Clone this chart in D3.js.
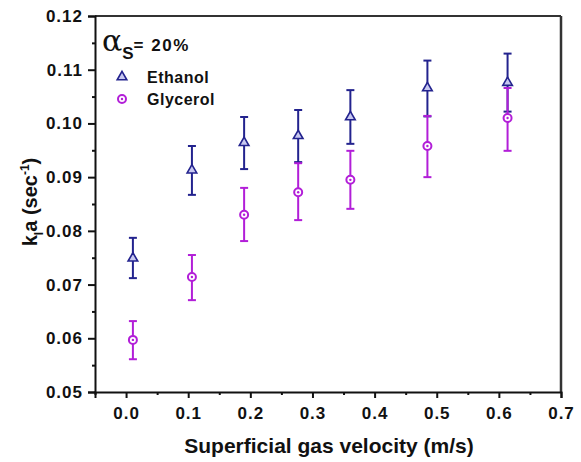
<!DOCTYPE html>
<html>
<head>
<meta charset="utf-8">
<script src="https://cdn.jsdelivr.net/npm/d3@7.9.0/dist/d3.min.js"></script>
<style>
  body { margin: 0; background: #fff; }
  text { font-family: "Liberation Sans", Arial, sans-serif; font-weight: bold; }
</style>
</head>
<body>
<svg id="chart" width="581" height="462"></svg>
<script>
// superficial gas velocity (m/s)
const velocity = [0.011, 0.106, 0.19, 0.277, 0.361, 0.485, 0.614];

// kla values and error bars
const ethanol    = [0.0749, 0.0913, 0.0964, 0.0977, 0.1012, 0.1066, 0.1076];
const ethanolLo  = [0.0712, 0.0867, 0.0915, 0.0928, 0.0962, 0.1013, 0.1022];
const ethanolHi  = [0.0787, 0.0958, 0.1012, 0.1025, 0.1062, 0.1117, 0.1130];
const glycerol   = [0.0597, 0.0714, 0.0830, 0.0872, 0.0895, 0.0958, 0.1010];
const glycerolLo = [0.0561, 0.0671, 0.0781, 0.0820, 0.0841, 0.0900, 0.0949];
const glycerolHi = [0.0632, 0.0755, 0.0880, 0.0926, 0.0949, 0.1014, 0.1066];

const xTicks = [0.0, 0.1, 0.2, 0.3, 0.4, 0.5, 0.6, 0.7];
const yTicks = [0.05, 0.06, 0.07, 0.08, 0.09, 0.10, 0.11, 0.12];

const svg = d3.select('#chart');
const pLeft = 95, pRight = 561, pTop = 16, pBottom = 392;

const x = d3.scaleLinear().domain([-0.05, 0.7]).range([pLeft, pRight]);
const y = d3.scaleLinear().domain([0.05, 0.12]).range([pBottom, pTop]);

// frame (top/right lines)
svg.append('line').attr('x1', pLeft).attr('x2', pRight).attr('y1', pTop).attr('y2', pTop)
  .attr('stroke', '#333').attr('stroke-width', 2);
svg.append('line').attr('x1', pRight).attr('x2', pRight).attr('y1', pTop).attr('y2', pBottom)
  .attr('stroke', '#333').attr('stroke-width', 2.5);

// x axis
svg.append('g').attr('transform', `translate(0,${pBottom})`)
  .call(d3.axisBottom(x).tickValues(xTicks).tickFormat(d3.format('.1f')).tickSize(6).tickPadding(9));
svg.append('g').attr('transform', `translate(0,${pBottom})`)
  .call(d3.axisBottom(x).tickValues(d3.range(-0.05, 0.7, 0.1)).tickFormat('').tickSize(3))
  .select('.domain').remove();

// y axis
svg.append('g').attr('transform', `translate(${pLeft},0)`)
  .call(d3.axisLeft(y).tickValues(yTicks).tickFormat(d3.format('.2f')).tickSize(7).tickPadding(5));
svg.append('g').attr('transform', `translate(${pLeft},0)`)
  .call(d3.axisLeft(y).tickValues(d3.range(0.055, 0.12, 0.01)).tickFormat('').tickSize(3))
  .select('.domain').remove();

svg.selectAll('.domain').attr('stroke', '#111').attr('stroke-width', 2);
svg.selectAll('.tick line').attr('stroke', '#111').attr('stroke-width', 2);
svg.selectAll('.tick text').attr('font-size', 17).attr('fill', '#111')
  .attr('letter-spacing', 1)
  .style('font-family', '"Liberation Sans", Arial, sans-serif').style('font-weight', 'bold');

// axis titles
svg.append('text').attr('x', 329).attr('y', 453)
  .attr('text-anchor', 'middle').attr('font-size', 21).attr('fill', '#111')
  .text('Superficial gas velocity (m/s)');

const yl = svg.append('text').attr('transform', 'translate(37,202) rotate(-90)')
  .attr('text-anchor', 'middle').attr('font-size', 20).attr('fill', '#111');
yl.append('tspan').text('k');
yl.append('tspan').attr('font-size', 12).attr('dy', 6).text('l');
yl.append('tspan').attr('dy', -6).text('a (sec');
yl.append('tspan').attr('font-size', 12).attr('dy', -8).text('-1');
yl.append('tspan').attr('dy', 8).text(')');

// series
const series = [
  { name: 'Ethanol', vals: ethanol, lo: ethanolLo, hi: ethanolHi, color: '#23238e', shape: 'tri' },
  { name: 'Glycerol', vals: glycerol, lo: glycerolLo, hi: glycerolHi, color: '#b21ed8', shape: 'circ' }
];

function marker(g, shape, color) {
  if (shape === 'tri') {
    g.append('path').attr('d', d3.symbol(d3.symbolTriangle, 40)())
      .attr('fill', '#c8c8f0').attr('stroke', color).attr('stroke-width', 1.6);
  } else {
    g.append('circle').attr('r', 4).attr('fill', '#fff')
      .attr('stroke', color).attr('stroke-width', 2);
    g.append('circle').attr('r', 1.2).attr('fill', color);
  }
}

series.forEach((s) => {
  const g = svg.append('g');
  velocity.forEach((v, i) => {
    const cx = x(v);
    g.append('line').attr('x1', cx).attr('x2', cx).attr('y1', y(s.lo[i])).attr('y2', y(s.hi[i]))
      .attr('stroke', s.color).attr('stroke-width', 2);
    [s.lo[i], s.hi[i]].forEach((e) => {
      g.append('line').attr('x1', cx - 4).attr('x2', cx + 4).attr('y1', y(e)).attr('y2', y(e))
        .attr('stroke', s.color).attr('stroke-width', 2);
    });
    marker(g.append('g').attr('transform', `translate(${cx},${y(s.vals[i])})`), s.shape, s.color);
  });
});

// legend
const lt = svg.append('text').attr('x', 102).attr('y', 51).attr('fill', '#111');
lt.append('tspan').attr('font-size', 30).style('font-family', '"DejaVu Serif", serif').style('font-weight', 'normal').text('α');
lt.append('tspan').attr('font-size', 17).attr('dy', 8).text('S');
lt.append('tspan').attr('font-size', 17).attr('dy', -8).attr('letter-spacing', 1.5).text('= 20%');

series.forEach((s, i) => {
  const ly = 77 + i * 22;
  marker(svg.append('g').attr('transform', `translate(122,${ly})`), s.shape, s.color);
  svg.append('text').attr('x', 147).attr('y', ly + 6).attr('font-size', 16).attr('letter-spacing', 0.5)
    .attr('fill', '#111').text(s.name);
});
</script>
</body>
</html>
